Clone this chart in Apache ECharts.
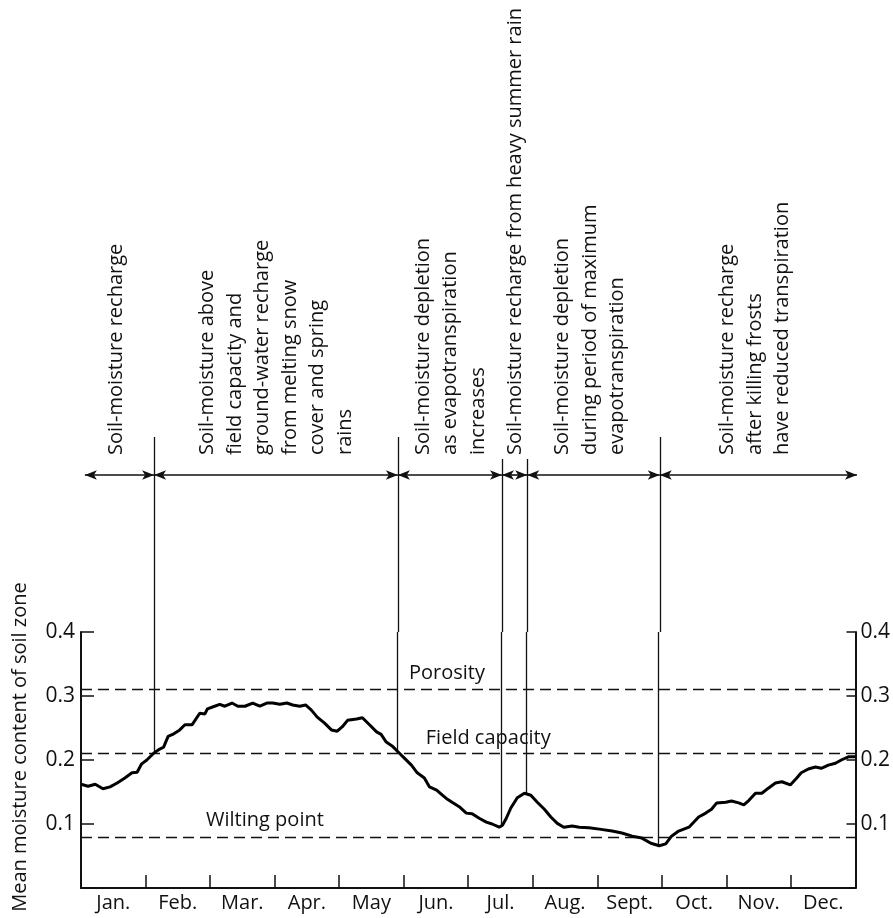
<!DOCTYPE html>
<html><head><meta charset="utf-8">
<script src="https://cdn.jsdelivr.net/npm/echarts@6/dist/echarts.min.js"></script>
<style>html,body{margin:0;padding:0;background:#fff}#c{width:893px;height:918px}</style>
</head><body><div id="c"></div>
<script>
// ---------- data ----------
const months = ['Jan.','Feb.','Mar.','Apr.','May','Jun.','Jul.','Aug.','Sept.','Oct.','Nov.','Dec.'];
const yTickValues = [0, 0.1, 0.2, 0.3, 0.4];

// mean moisture content curve (x in months from 1 Jan, y = moisture fraction)
const curveMonth = [0.00,0.11,0.22,0.34,0.45,0.56,0.68,0.79,0.87,0.94,1.02,1.13,1.22,1.28,1.35,1.42,1.53,1.61,1.72,1.84,1.92,1.96,2.07,2.15,2.23,2.34,2.43,2.54,2.66,2.77,2.88,2.97,3.08,3.19,3.28,3.39,3.48,3.57,3.66,3.77,3.88,3.97,4.05,4.13,4.27,4.36,4.47,4.58,4.65,4.73,4.82,4.93,5.01,5.12,5.21,5.32,5.40,5.51,5.60,5.66,5.75,5.86,5.97,6.06,6.17,6.28,6.37,6.48,6.53,6.59,6.66,6.76,6.87,6.97,7.07,7.18,7.28,7.38,7.48,7.61,7.72,7.87,8.03,8.23,8.38,8.54,8.69,8.83,8.96,9.06,9.15,9.26,9.42,9.57,9.68,9.77,9.85,9.99,10.08,10.19,10.27,10.35,10.45,10.55,10.65,10.76,10.86,10.99,11.09,11.16,11.27,11.38,11.47,11.58,11.69,11.78,11.89,12.00];
const curveValue = [0.162,0.159,0.162,0.155,0.158,0.164,0.172,0.180,0.181,0.194,0.200,0.211,0.217,0.220,0.237,0.240,0.247,0.255,0.255,0.273,0.272,0.280,0.284,0.287,0.284,0.289,0.284,0.284,0.289,0.284,0.289,0.289,0.287,0.289,0.286,0.284,0.286,0.278,0.267,0.258,0.247,0.245,0.252,0.262,0.264,0.266,0.255,0.244,0.240,0.228,0.222,0.211,0.203,0.192,0.180,0.172,0.158,0.153,0.145,0.140,0.134,0.127,0.117,0.116,0.109,0.103,0.100,0.095,0.098,0.109,0.125,0.141,0.148,0.145,0.134,0.123,0.111,0.101,0.095,0.097,0.095,0.094,0.092,0.089,0.086,0.081,0.078,0.070,0.066,0.069,0.081,0.089,0.095,0.111,0.117,0.123,0.133,0.134,0.136,0.133,0.130,0.137,0.148,0.148,0.156,0.164,0.166,0.161,0.172,0.180,0.186,0.189,0.187,0.192,0.195,0.200,0.205,0.205];

// reference levels
const refNames = ['Porosity', 'Field capacity', 'Wilting point'];
const refValues = [0.311, 0.209, 0.081];
const refLabelMonth = [5.67, 6.31, 2.85];

// phase boundaries (month) and curve value where each boundary line stops
const boundaryMonth = [1.13, 4.90, 6.51, 6.90, 8.95];
const boundaryValue = [0.211, 0.211, 0.095, 0.148, 0.067];

// phases
const phaseStart = [0.06, 1.13, 4.90, 6.51, 6.90, 8.95];
const phaseEnd   = [1.13, 4.90, 6.51, 6.90, 8.95, 12.00];
const phaseTextMonth = [0.54, 1.96, 5.29, 6.71, 7.45, 10.00];
const phaseText = [
  ['Soil-moisture recharge'],
  ['Soil-moisture above', 'field capacity and', 'ground-water recharge', 'from melting snow', 'cover and spring', 'rains'],
  ['Soil-moisture depletion', 'as evapotranspiration', 'increases'],
  ['Soil-moisture recharge from heavy summer rain'],
  ['Soil-moisture depletion', 'during period of maximum', 'evapotranspiration'],
  ['Soil-moisture recharge', 'after killing frosts', 'have reduced transpiration']
];
const yAxisTitle = 'Mean moisture content of soil zone';

// ---------- layout ----------
const FONT = '"Open Sans", "DejaVu Sans", sans-serif';
const INK = '#111';
const GRID_LEFT = 81, GRID_RIGHT = 36, PLOT_TOP = 632, PLOT_BOTTOM = 30;
const ANN_HEIGHT = PLOT_TOP;          // annotation grid uses pixel-like y units
const LINE_TOP = 437, LINE_TOP_NARROW = 459, ARROW_Y = 475, TEXT_BASE = 455, LINE_GAP = 27.5;
const REF_LABEL_LIFT = 16;
const boundaryTop = boundaryMonth.map((m, i) => (i === 2 || i === 3) ? LINE_TOP_NARROW : LINE_TOP);

const chart = echarts.init(document.getElementById('c'), null, {renderer: 'canvas'});

const curveData = curveMonth.map((m, i) => [m, curveValue[i]]);

const option = {
  animation: false,
  backgroundColor: '#fff',
  grid: [
    {left: GRID_LEFT, right: GRID_RIGHT, top: PLOT_TOP, bottom: PLOT_BOTTOM},
    {left: GRID_LEFT, right: GRID_RIGHT, top: 0, height: ANN_HEIGHT}
  ],
  xAxis: [
    {
      type: 'category', gridIndex: 0, data: months, boundaryGap: true, position: 'bottom',
      axisLine: {show: true, lineStyle: {color: INK, width: 2}},
      axisTick: {show: true, inside: true, length: 13, interval: 0, lineStyle: {color: INK, width: 1.5}},
      axisLabel: {show: true, interval: 0, margin: 5, color: INK, fontFamily: FONT, fontSize: 20},
      splitLine: {show: false}
    },
    {type: 'value', gridIndex: 0, min: 0, max: 12, show: false},
    {type: 'value', gridIndex: 1, min: 0, max: 12, show: false}
  ],
  yAxis: [
    {
      type: 'value', gridIndex: 0, min: 0, max: 0.4, interval: 0.1, position: 'left',
      axisLine: {show: true, lineStyle: {color: INK, width: 2}},
      axisTick: {show: true, inside: true, length: 13, lineStyle: {color: INK, width: 1.5}},
      axisLabel: {show: true, margin: 6, color: INK, fontFamily: FONT, fontSize: 21,
        formatter: v => v === 0 ? '' : v.toFixed(1)},
      splitLine: {show: false}
    },
    {
      type: 'value', gridIndex: 0, min: 0, max: 0.4, interval: 0.1, position: 'right',
      axisLine: {show: true, lineStyle: {color: INK, width: 2}},
      axisTick: {show: true, inside: true, length: 9, lineStyle: {color: INK, width: 1.5}},
      axisLabel: {show: true, margin: 5, color: INK, fontFamily: FONT, fontSize: 21,
        formatter: v => v === 0 ? '' : v.toFixed(1)},
      splitLine: {show: false}
    },
    {type: 'value', gridIndex: 1, min: 0, max: ANN_HEIGHT, inverse: true, show: false}
  ],
  series: [
    {
      name: 'moisture', type: 'line', xAxisIndex: 1, yAxisIndex: 0,
      data: curveData, showSymbol: false, symbol: 'none', smooth: false,
      lineStyle: {color: '#000', width: 3}, z: 5,
      markLine: {
        silent: true, symbol: ['none', 'none'], animation: false,
        label: {show: false},
        data: [
          ...refValues.map(v => ({yAxis: v, lineStyle: {color: INK, width: 1.3, type: [11, 6]}})),
          ...boundaryMonth.map((m, i) => [
            {coord: [m, boundaryValue[i]], lineStyle: {color: INK, width: 1.3, type: 'solid'}},
            {coord: [m, 0.4]}
          ])
        ]
      }
    },
    {
      name: 'boundaryUpper', type: 'line', xAxisIndex: 2, yAxisIndex: 2, data: [],
      markLine: {
        silent: true, symbol: ['none', 'none'], animation: false, label: {show: false},
        lineStyle: {color: INK, width: 1.3, type: 'solid'},
        data: boundaryMonth.map((m, i) => [{coord: [m, boundaryTop[i]]}, {coord: [m, ANN_HEIGHT]}])
      }
    },
    {
      name: 'phaseArrows', type: 'line', xAxisIndex: 2, yAxisIndex: 2, data: [],
      markLine: {
        silent: true, symbol: ['arrow', 'arrow'], symbolSize: [7, 12], animation: false,
        label: {show: false},
        lineStyle: {color: INK, width: 1.6, type: 'solid'},
        itemStyle: {color: INK},
        data: phaseStart.map((s, i) => [{coord: [s, ARROW_Y]}, {coord: [phaseEnd[i], ARROW_Y]}])
      }
    }
  ]
};
chart.setOption(option);

// texts anchored through the axes
const graphics = [];
phaseText.forEach((lines, g) => {
  const p0 = chart.convertToPixel({xAxisIndex: 2, yAxisIndex: 2}, [phaseTextMonth[g], TEXT_BASE]);
  lines.forEach((t, k) => {
    graphics.push({
      type: 'text', x: p0[0] + k * LINE_GAP, y: p0[1], rotation: Math.PI / 2, silent: true,
      style: {text: t, fill: INK, font: '20px ' + FONT, textAlign: 'left', textVerticalAlign: 'middle'}
    });
  });
});
refNames.forEach((name, i) => {
  const p = chart.convertToPixel({xAxisIndex: 1, yAxisIndex: 0}, [refLabelMonth[i], refValues[i]]);
  graphics.push({
    type: 'text', x: p[0], y: p[1] - REF_LABEL_LIFT, silent: true,
    style: {text: name, fill: INK, font: '20px ' + FONT, textAlign: 'center', textVerticalAlign: 'middle'}
  });
});
graphics.push({
  type: 'text', x: 20, y: 747, rotation: Math.PI / 2, silent: true,
  style: {text: yAxisTitle, fill: INK, font: '20px ' + FONT, textAlign: 'center', textVerticalAlign: 'middle'}
});
chart.setOption({graphic: graphics});
</script>
</body></html>
